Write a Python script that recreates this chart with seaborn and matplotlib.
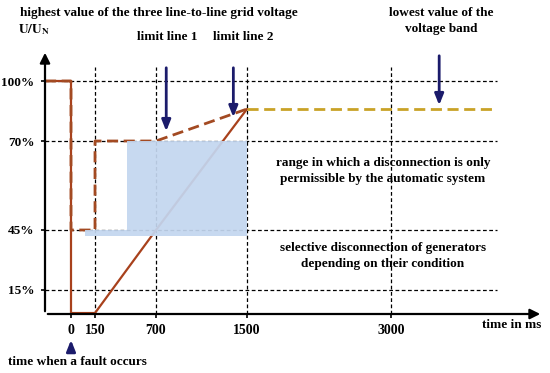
import numpy as np
import matplotlib
matplotlib.use("Agg")
import matplotlib.pyplot as plt
import seaborn as sns

# --- chart data ---
time_ticks = [0, 150, 700, 1500, 3000]
volt_ticks = [15, 45, 70, 100]
volt_labels = ["15%", "45%", "70%", "100%"]

# limit line 1 (dashed) and limit line 2 (solid), time in ms / voltage in %
lim1_t = [-300, 0, 0, 150, 150, 700, 1500]
lim1_u = [100, 100, 45, 45, 70, 70, 86]
lim2_t = [-300, 0, 0, 150, 700, 1500]
lim2_u = [100, 100, 0.6, 0.6, 45, 86]
band_t = [1500, 4100]
band_u = [86, 86]

# shaded range (automatic disconnection only)
range_t = [88, 440, 440, 1500, 1500, 88]
range_u = [45, 45, 70, 70, 42, 42]

# schematic (non-linear) axes of the original drawing
x_anchor_ms = [-300, 0, 150, 700, 1500, 3000, 4100, 5000]
x_anchor_pos = [0, 26, 50, 111, 202, 346, 452, 498]
y_anchor_pct = [-60, 0, 15, 45, 70, 100, 115.5]
y_anchor_pos = [-96, 0, 24, 84, 173, 233, 264]


def fx(v):
    return np.interp(v, x_anchor_ms, x_anchor_pos)


def fx_inv(v):
    return np.interp(v, x_anchor_pos, x_anchor_ms)


def fy(v):
    return np.interp(v, y_anchor_pct, y_anchor_pos)


def fy_inv(v):
    return np.interp(v, y_anchor_pos, y_anchor_pct)


sns.set_theme(style="white")
plt.rcParams["font.family"] = ["Liberation Serif", "DejaVu Serif"]
plt.rcParams["font.weight"] = "bold"
plt.rcParams["mathtext.fontset"] = "stix"
plt.rcParams["text.color"] = "black"
plt.rcParams["xtick.color"] = "black"
plt.rcParams["ytick.color"] = "black"

W, H = 550, 373
fig = plt.figure(figsize=(5.5, 3.73), dpi=100)
ax = fig.add_axes([45 / W, 1 - 314 / H, 498 / W, 264 / H])
ax.set_xscale("function", functions=(fx, fx_inv))
ax.set_yscale("function", functions=(fy, fy_inv))
ax.set_xlim(-300, 5000)
ax.set_ylim(0, 115.5)
for s in ax.spines.values():
    s.set_visible(False)

red = "#a8411c"
dash_red = "#a34a22"
gold = "#c9a227"
navy = "#1b1b6b"

# grid
ax.hlines(volt_ticks, -300, 4100, colors="black", linestyles=(0, (3, 2)), lw=0.9, zorder=1)
ax.vlines(time_ticks[1:], 0, 107, colors="black", linestyles=(0, (3, 2)), lw=0.9, zorder=1)

# limit lines
sns.lineplot(x=lim2_t, y=lim2_u, sort=False, estimator=None, color=red, lw=1.6, ax=ax, zorder=3)
sns.lineplot(x=lim1_t, y=lim1_u, sort=False, estimator=None, color=dash_red, lw=2,
             linestyle=(0, (4, 2)), ax=ax, zorder=3)
sns.lineplot(x=band_t, y=band_u, sort=False, estimator=None, color=gold, lw=2,
             linestyle=(0, (4, 2)), ax=ax, zorder=3)

ax.fill(range_t, range_u, color="#c3d6ef", alpha=0.93, lw=0, zorder=4)

# axes with arrows
axis_arrow = dict(arrowstyle="-|>,head_width=0.25,head_length=0.5", color="black", lw=1.6)
ax.annotate("", xy=(5000, 0), xytext=(-300, 0), arrowprops=axis_arrow,
            zorder=5, annotation_clip=False)
ax.annotate("", xy=(-300, 115.5), xytext=(-300, 0), arrowprops=axis_arrow,
            zorder=5, annotation_clip=False)

ax.set_xticks(time_ticks)
ax.set_xticklabels([str(t) for t in time_ticks])
ax.set_yticks(volt_ticks)
ax.set_yticklabels(volt_labels)
ax.tick_params(axis="both", which="both", length=3, width=1.2, color="black",
               labelcolor="black", labelsize=10, pad=4, direction="out")
ax.tick_params(axis="y", labelsize=9.5, pad=4.5)
ax.xaxis.set_ticks_position("bottom")
ax.yaxis.set_ticks_position("left")
ax.minorticks_off()
for lab in ax.get_xticklabels() + ax.get_yticklabels():
    lab.set_fontweight("bold")

# texts
fs = 9.5
ls = 1.35
fig.text(20 / W, 1 - 13 / H, "highest value of the three line-to-line grid voltage",
         fontsize=fs, fontweight="bold", va="center", ha="left")
fig.text(18 / W, 1 - 30 / H, r"$\mathbf{U/U_N}$", fontsize=fs, va="center", ha="left")
fig.text(167 / W, 1 - 37 / H, "limit line 1", fontsize=fs, fontweight="bold", va="center", ha="center")
fig.text(243 / W, 1 - 37 / H, "limit line 2", fontsize=fs, fontweight="bold", va="center", ha="center")
fig.text(441 / W, 1 - 21 / H, "lowest value of the\nvoltage band", fontsize=fs, fontweight="bold",
         va="center", ha="center", linespacing=ls)
fig.text(383 / W, 1 - 171 / H, "range in which a disconnection is only\npermissible by the automatic system",
         fontsize=fs, fontweight="bold", va="center", ha="center", linespacing=ls)
fig.text(383 / W, 1 - 256 / H, "selective disconnection of generators\ndepending on their condition",
         fontsize=fs, fontweight="bold", va="center", ha="center", linespacing=ls)
fig.text(512 / W, 1 - 325 / H, "time in ms", fontsize=fs, fontweight="bold", va="center", ha="center")
fig.text(8 / W, 1 - 362 / H, "time when a fault occurs", fontsize=fs, fontweight="bold",
         va="center", ha="left")

# pointer arrows
arr = dict(arrowstyle="-|>,head_width=0.22,head_length=0.55", color=navy, lw=2)
ax.annotate("", xy=(790, 73.5), xytext=(790, 108), arrowprops=arr, annotation_clip=False, zorder=6)
ax.annotate("", xy=(1380, 80.5), xytext=(1380, 108), arrowprops=arr, annotation_clip=False, zorder=6)
ax.annotate("", xy=(3500, 86.5), xytext=(3500, 114), arrowprops=arr, annotation_clip=False, zorder=6)
ax.annotate("", xy=(0, -14.5), xytext=(0, -23.7), arrowprops=arr, annotation_clip=False, zorder=6)

fig.savefig("out.png", dpi=100)
